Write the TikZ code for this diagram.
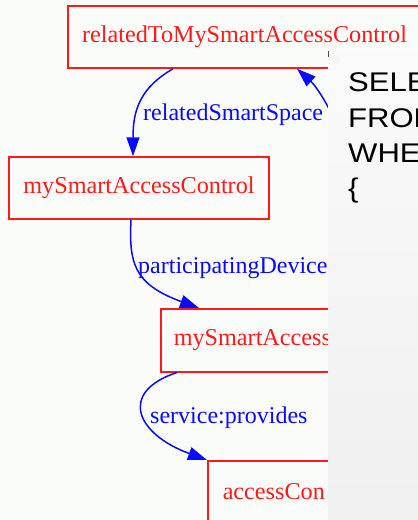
\documentclass[tikz,border=0pt]{standalone}
\usepackage{fontspec}
\setmainfont{Liberation Serif}
\newfontfamily\panelfont[FakeStretch=1.15]{Liberation Sans}
\usetikzlibrary{arrows.meta}
\definecolor{bgpage}{HTML}{FAFCFA}
\definecolor{graphred}{HTML}{FF1A1A}
\definecolor{graphblue}{HTML}{0A0AFF}
\tikzset{
  gbox/.style={draw=graphred, text=graphred, line width=1.5pt, rectangle,
    font=\fontsize{24.2}{27}\selectfont, inner sep=0pt},
  gedge/.style={draw=graphblue, line width=1.5pt,
    -{Triangle[length=19pt,width=13pt]}},
  glabel/.style={text=graphblue, font=\fontsize{24}{27}\selectfont,
    inner sep=0pt, anchor=base west},
  qline/.style={font=\panelfont\fontsize{27}{32}\selectfont, text=black,
    inner sep=0pt, anchor=base west}
}
\begin{document}
\begin{tikzpicture}[x=1pt, y=-1pt]
  \useasboundingbox (0,0) rectangle (418,520);
  \clip (0,0) rectangle (418,520);
  \fill[bgpage] (0,0) rectangle (418,520);

  % graph nodes
  \node[gbox, minimum width=353pt, minimum height=62pt] (r) at (244.5,37)
    {relatedToMySmartAccessControl};
  \node[gbox, minimum width=260pt, minimum height=62pt] (m) at (139,188)
    {mySmartAccessControl};
  \node[gbox, anchor=north west, inner xsep=13pt, text width=234pt,
    align=left, minimum height=63pt] (d) at (160,308) {mySmartAccess};
  \node[gbox, anchor=north west, inner xsep=15pt, text width=200pt,
    align=left, minimum height=62pt] (a) at (207,460) {accessCon};
  \coordinate (hidden) at (342,138);

  % connectors
  \draw[gedge] ([xshift=-71.5pt]r.south) .. controls (140,88) and (133,110)
    .. ([xshift=-6pt]m.north);
  \draw[gedge] (hidden) .. controls (331,108) and (316,86)
    .. ([xshift=52.5pt]r.south);
  \draw[gedge] ([xshift=-8pt]m.south) .. controls (129,262) and (133,284)
    .. ([xshift=39pt]d.north west);
  \draw[gedge] ([xshift=17pt]d.south west) .. controls (118,392) and (136,434)
    .. (a.north west);

  % connector labels
  \node[glabel] (l1) at (143,120) {relatedSmartSpace};
  \node[glabel] (l2) at (138,273) {participatingDevice};
  \node[glabel] (l3) at (150,423) {service:provides};

  % query panel laid over the right side
  \shade[top color=white!98!black, bottom color=white!94!black]
    (328,52) rectangle (418,520);
  \draw[black!70, line width=1pt] (328.5,51) -- (328.5,57);
  \fill[black!4] (336,60) circle (4pt);
  \node[qline] (q1) at (348,91) {SELECT};
  \node[qline] (q2) at (348,127) {FROM};
  \node[qline] (q3) at (348,162) {WHERE};
  \node[qline] (q4) at (348,197) {\{};
\end{tikzpicture}
\end{document}
